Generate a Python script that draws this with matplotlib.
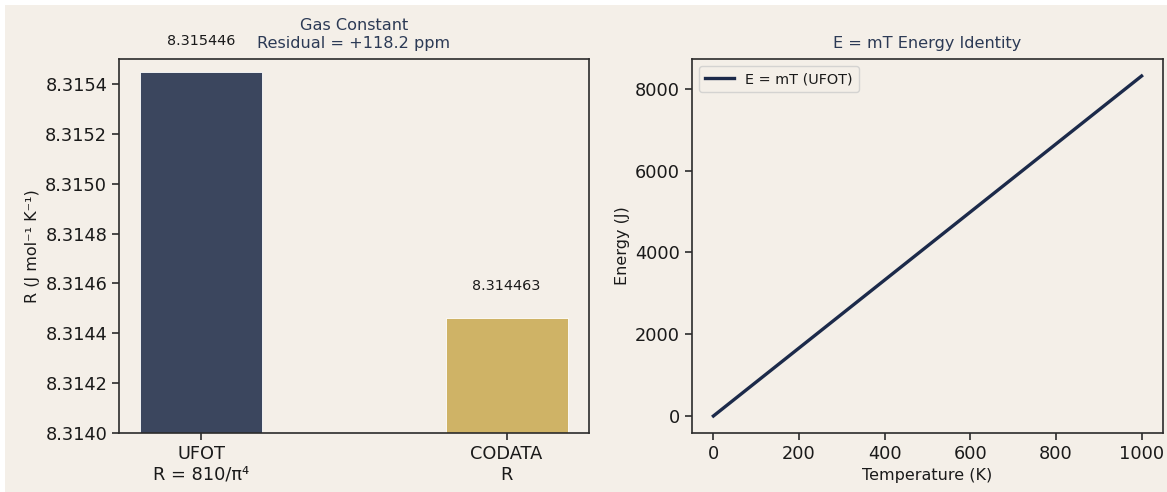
import numpy as np
import matplotlib
matplotlib.use("Agg")
import matplotlib.pyplot as plt
from matplotlib.patches import Rectangle

# Gas constant comparison
labels = ["UFOT\nR = 810/π⁴", "CODATA\nR"]
r_values = [8.315446, 8.314463]
bar_colors = ["#3b465e", "#cfb366"]
residual_ppm = 118.2

# E = mT line
temperature = [0, 200, 400, 600, 800, 1000]
energy = [0.0, 1663.1, 3326.2, 4989.3, 6652.4, 8315.4]

bg = "#f4efe8"
title_color = "#2c3a55"
line_color = "#1c2a4a"

fig = plt.figure(figsize=(11.67, 4.92), dpi=100, facecolor="white")
# beige canvas, leaving a thin white strip on the top and left
fig.patches.append(Rectangle((5 / 1167, 0), 1, 1 - 5 / 492, transform=fig.transFigure,
                             facecolor=bg, edgecolor="none", zorder=-10))

ax1 = fig.add_axes([119 / 1167, 59 / 492, 470 / 1167, 374 / 492])
ax2 = fig.add_axes([692 / 1167, 59 / 492, 471 / 1167, 374 / 492])

for ax in (ax1, ax2):
    ax.set_facecolor(bg)
    for s in ax.spines.values():
        s.set_color("#2b2b2b")
        s.set_linewidth(1.2)
    ax.tick_params(labelsize=12.8, colors="#1a1a1a", length=5, width=1.1)

# left: bar chart
x = np.arange(len(labels))
ax1.bar(x, r_values, width=0.4, color=bar_colors, edgecolor="white", linewidth=0.6)
for xi, v in zip(x, r_values):
    ax1.text(xi, v + 0.0001, f"{v:.6f}", ha="center", va="bottom", fontsize=10.4, color="#1a1a1a")
ax1.set_xticks(x)
ax1.set_xticklabels(labels)
ax1.set_ylim(8.3140, 8.3155)
ax1.set_yticks(np.arange(8.3140, 8.31545, 0.0002))
ax1.yaxis.set_major_formatter(plt.FormatStrFormatter("%.4f"))
ax1.set_ylabel("R (J mol⁻¹ K⁻¹)", fontsize=11.5, color="#1a1a1a")
ax1.set_title(f"Gas Constant\nResidual = +{residual_ppm:.1f} ppm", fontsize=11.6,
              color=title_color, pad=8)

# right: energy identity
ax2.plot(temperature, energy, color=line_color, linewidth=2.4, label="E = mT (UFOT)")
ax2.set_xticks([0, 200, 400, 600, 800, 1000])
ax2.set_yticks([0, 2000, 4000, 6000, 8000])
ax2.set_xlabel("Temperature (K)", fontsize=11.5, color="#1a1a1a")
ax2.set_ylabel("Energy (J)", fontsize=11.5, color="#1a1a1a")
ax2.set_title("E = mT Energy Identity", fontsize=11.6, color=title_color, pad=8)
leg = ax2.legend(loc="upper left", fontsize=10.4, facecolor=bg, framealpha=0.8)
for t in leg.get_texts():
    t.set_color("#1a1a1a")

fig.savefig("out.png", dpi=100, facecolor=fig.get_facecolor())
